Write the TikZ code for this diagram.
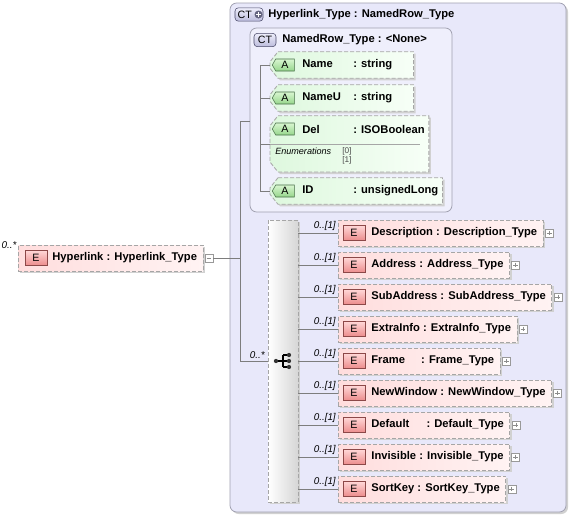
\documentclass[tikz,border=0pt]{standalone}
\usepackage{fontspec}
\setmainfont{Liberation Sans}
\usetikzlibrary{positioning,shadows,backgrounds,shapes.symbols}
\definecolor{lavout}{RGB}{232,232,250}
\definecolor{lavin}{RGB}{239,239,252}
\definecolor{lavline}{RGB}{160,160,176}
\definecolor{elemL}{RGB}{255,221,221}
\definecolor{elemR}{RGB}{255,243,243}
\definecolor{ebadgeT}{RGB}{255,214,214}
\definecolor{ebadgeB}{RGB}{236,140,140}
\definecolor{ebadgeD}{RGB}{140,72,72}
\definecolor{attrL}{RGB}{222,248,222}
\definecolor{attrR}{RGB}{247,255,247}
\definecolor{abadgeT}{RGB}{216,246,208}
\definecolor{abadgeB}{RGB}{150,214,140}
\definecolor{abadgeD}{RGB}{70,110,70}
\definecolor{ctT}{RGB}{238,238,252}
\definecolor{ctB}{RGB}{188,188,220}
\definecolor{ctD}{RGB}{72,72,104}
\definecolor{connC}{RGB}{125,125,125}

\begin{document}
\begin{tikzpicture}[x=0.75pt,y=-0.75pt,
  every node/.style={inner sep=0pt},
  font=\fontsize{8.4}{10}\selectfont\bfseries,
  conn/.style={draw=connC, line width=0.6pt},
  dashbox/.style={draw=black!35, dash pattern=on 3pt off 1.5pt, line width=0.6pt},
  boxshadow/.style={drop shadow={shadow xshift=1.5pt, shadow yshift=-1.5pt, fill=black!18, opacity=1}},
  elem/.style={dashbox, boxshadow, anchor=west, left color=elemL, right color=elemR, minimum height=19.5pt, inner xsep=4.5pt},
  ebadge/.style={draw=ebadgeD, top color=ebadgeT, bottom color=ebadgeB, minimum width=16.5pt, minimum height=11pt, font=\fontsize{8}{9}\selectfont},
  mult/.style={anchor=base east, font=\fontsize{7.4}{8}\selectfont\itshape},
  xbox/.style={draw=black!40, fill=white, minimum size=6pt},
  plusbox/.style={xbox, path picture={\draw[black!45, line width=0.5pt] ([xshift=1.2pt]path picture bounding box.west) -- ([xshift=-1.2pt]path picture bounding box.east) ([yshift=-1.2pt]path picture bounding box.north) -- ([yshift=1.2pt]path picture bounding box.south);}},
  minusbox/.style={xbox, path picture={\draw[black!45, line width=0.5pt] ([xshift=1.2pt]path picture bounding box.west) -- ([xshift=-1.2pt]path picture bounding box.east);}},
  attr/.style={anchor=west, minimum height=19.5pt, inner xsep=3pt},
  attrshape/.style={dashbox, boxshadow, left color=attrL, right color=attrR},
  abadge/.style={shape=signal, signal to=west, signal from=nowhere, signal pointer angle=120, draw=abadgeD, top color=abadgeT, bottom color=abadgeB, minimum width=16.5pt, minimum height=9pt, font=\fontsize{8}{9}\selectfont},
  ctbox/.style={draw=lavline, line width=0.6pt, rounded corners=5pt},
  ctbadge/.style={draw=ctD, rounded corners=2.5pt, top color=ctT, bottom color=ctB, minimum height=10pt, font=\fontsize{8}{9}\selectfont},
  seqbox/.style={dashbox, boxshadow, left color=white, right color=black!16, minimum width=22.5pt, minimum height=211.5pt},
  seqdot/.style={circle, fill=black!80, minimum size=3.2pt},
  enumlbl/.style={font=\fontsize{6.8}{8}\selectfont\itshape},
  enumval/.style={font=\fontsize{6.2}{7}\selectfont, text=black!70}
  ]
\useasboundingbox (0,0) rectangle (572,518);

% complex type headers
\node[ctbadge, minimum width=21pt] (ctb) at (249,14.5) {\makebox[17pt][l]{CT}};
\node[circle, fill=ctD!85, minimum size=6pt, path picture={\draw[white, line width=0.9pt] ([xshift=1pt]path picture bounding box.west) -- ([xshift=-1pt]path picture bounding box.east) ([yshift=-1pt]path picture bounding box.north) -- ([yshift=1pt]path picture bounding box.south);}] (ctp) at (258.5,14.5) {};
\node[anchor=west] (tout) at (268,14.5) {Hyperlink\_Type : NamedRow\_Type};
\node[ctbadge, minimum width=16.5pt] (ctb2) at (265,40) {CT};
\node[anchor=west] (tin) at (282,40) {NamedRow\_Type : <None>};

% attributes
\node[attr] (nm) at (270,65) {\hspace*{21pt}\makebox[38.25pt][l]{Name}\makebox[42pt][l]{: string}};
\node[attr] (nmu) at (270,98) {\hspace*{21pt}\makebox[38.25pt][l]{NameU}\makebox[42pt][l]{: string}};
\node[attr] (del) at (270,129) {\hspace*{21pt}\makebox[38.25pt][l]{Del}: ISOBoolean};
\node[attr] (id) at (270,191) {\hspace*{21pt}\makebox[38.25pt][l]{ID}: unsignedLong};
\node[abadge] (anm) at ([xshift=11.25pt]nm.west) {A};
\node[abadge] (anmu) at ([xshift=11.25pt]nmu.west) {A};
\node[abadge] (adel) at ([xshift=11.25pt]del.west) {A};
\node[abadge] (aid) at ([xshift=11.25pt]id.west) {A};
\coordinate (delend) at (del.east |- 0,172);
\coordinate (delmid) at (270,144);
\node[enumlbl, anchor=base west] (enl) at (275,154) {Enumerations};
\node[enumval, anchor=base west] (en0) at (342,153) {[0]};
\node[enumval, anchor=base west] (en1) at (342,162) {[1]};
\draw[black!35, line width=0.6pt] (delmid) -- ([xshift=-6.75pt]delmid -| delend);
\coordinate (abus) at (260,65);
\draw[conn] (nm.west) -- (abus) |- (id.west);
\draw[conn] (nmu.west) -- (nmu.west -| abus);
\draw[conn] (delmid) -- (delmid -| abus);

% root element
\node[elem] (hl) at (18,258) {\hspace*{21pt}Hyperlink : Hyperlink\_Type};
\node[ebadge] (bhl) at ([xshift=13.5pt]hl.west) {E};
\node[minusbox] (hlm) at ([xshift=4.2pt]hl.east) {};
\node[mult] (mhl) at ([xshift=-1pt,yshift=7.5pt]hl.west) {0..*};

% sequence
\node[seqbox] (seq) at (283,361) {};
\node[mult] (mseq) at (265,358) {0..*};
\node[seqdot] (sd0) at (276,361) {};
\node[seqdot] (sd1) at (289,355) {};
\node[seqdot] (sd2) at (289,361) {};
\node[seqdot] (sd3) at (289,367) {};
\coordinate (sdj) at (283,361);
\draw[line width=0.8pt] (sd0) -- (sd2) (sdj |- sd1) -- (sdj |- sd3) (sdj |- sd1) -- (sd1) (sdj |- sd3) -- (sd3);
\coordinate (ebus) at (240,121);
\coordinate (inl) at (250,121);
\draw[conn] (inl) -- (ebus) |- (seq.west);
\draw[conn] (hlm.east) -- (hlm.east -| ebus);

% child elements
\node[elem] (desc) at (338,233) {\hspace*{20.25pt}Description : Description\_Type};
\node[elem] (addr) at (338,265) {\hspace*{20.25pt}Address : Address\_Type};
\node[elem] (subaddr) at (338,297) {\hspace*{20.25pt}SubAddress : SubAddress\_Type};
\node[elem] (extra) at (338,329) {\hspace*{20.25pt}ExtraInfo : ExtraInfo\_Type};
\node[elem] (frame) at (338,361) {\hspace*{20.25pt}\makebox[35pt][l]{Frame} : Frame\_Type};
\node[elem] (newwin) at (338,393) {\hspace*{20.25pt}NewWindow : NewWindow\_Type};
\node[elem] (default) at (338,425) {\hspace*{20.25pt}\makebox[39pt][l]{Default} : Default\_Type};
\node[elem] (invis) at (338,457) {\hspace*{20.25pt}Invisible : Invisible\_Type};
\node[elem] (sortkey) at (338,489) {\hspace*{20.25pt}SortKey : SortKey\_Type};
\foreach \e in {desc,addr,subaddr,extra,frame,newwin,default,invis,sortkey} {
  \node[ebadge] (b\e) at ([xshift=12pt]\e.west) {E};
  \node[plusbox] (p\e) at ([xshift=4.2pt]\e.east) {};
  \node[mult] (m\e) at ([xshift=-1.5pt,yshift=3.5pt]\e.west) {0..[1]};
  \draw[conn] (seq.east |- \e.west) -- (\e.west);
}

% containers and attribute outlines
\begin{scope}[on background layer]
\path[ctbox, boxshadow, fill=lavout] (230,3) rectangle (566,512);
\path[ctbox, fill=lavin] (250,28) rectangle (452,212);
\foreach \a/\b in {nm/nm.south east, nmu/nmu.south east, del/delend, id/id.south east} {
  \coordinate (tl) at (\a.north west);
  \coordinate (br) at (\b);
  \coordinate (bl) at (tl |- br);
  \path[attrshape] ([xshift=6pt]tl) -- (tl -| br) -- (br) -- ([xshift=6pt]bl) -- ([yshift=7.5pt]bl) -- ([yshift=-7.5pt]tl) -- cycle;
}
\end{scope}
\end{tikzpicture}
\end{document}
